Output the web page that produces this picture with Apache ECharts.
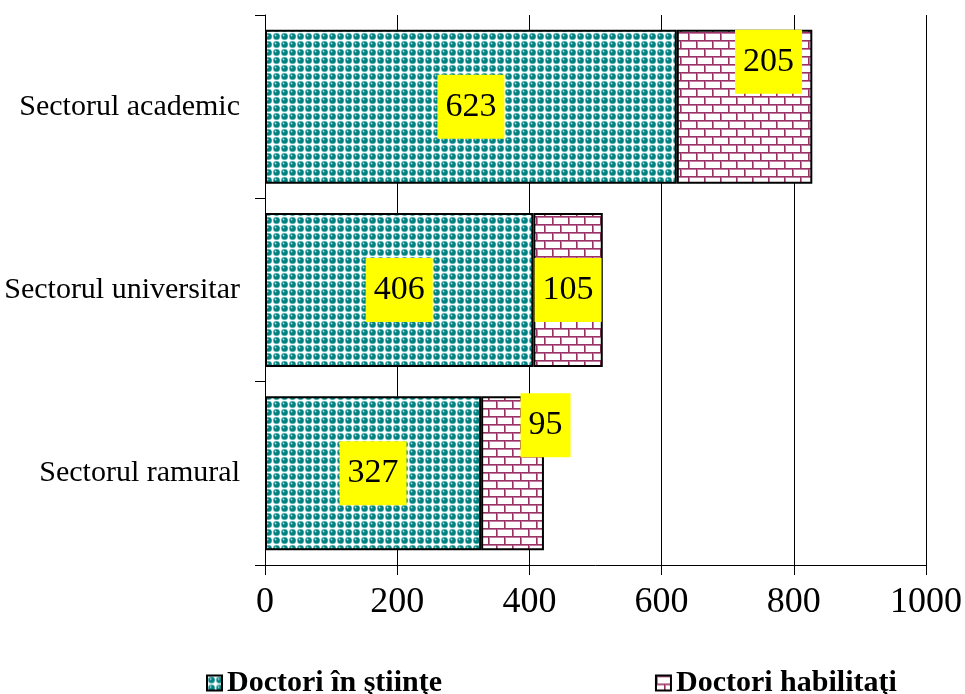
<!DOCTYPE html>
<html><head><meta charset="utf-8">
<script src="https://cdn.jsdelivr.net/npm/echarts@6/dist/echarts.min.js"></script>
<style>html,body{margin:0;padding:0;background:#fff}#c{width:965px;height:694px}</style>
</head><body><div id="c"></div>
<script>
var categories = ['Sectorul academic', 'Sectorul universitar', 'Sectorul ramural'];
var seriesNames = ['Doctori în ştiinţe', 'Doctori habilitaţi'];
var doctoriStiinte = [623, 406, 327];
var doctoriHabilitati = [205, 105, 95];
var xTicks = [0, 200, 400, 600, 800, 1000];

function dotPattern() {
  var c = document.createElement('canvas'); c.width = 8; c.height = 8;
  var g = c.getContext('2d');
  g.fillStyle = '#ffffff'; g.fillRect(0, 0, 8, 8);
  g.fillStyle = '#8ccccc';
  g.beginPath(); g.arc(4.5, 4.5, 3.7, 0, Math.PI * 2); g.fill();
  g.fillStyle = '#008080';
  g.beginPath(); g.arc(4.6, 4.4, 3.0, 0, Math.PI * 2); g.fill();
  g.fillStyle = '#a8dede';
  g.beginPath(); g.arc(3.6, 3.5, 0.9, 0, Math.PI * 2); g.fill();
  return c;
}
function brickPattern() {
  var c = document.createElement('canvas'); c.width = 16; c.height = 16;
  var g = c.getContext('2d');
  g.fillStyle = '#ffffff'; g.fillRect(0, 0, 16, 16);
  g.fillStyle = '#c47a9e';
  g.fillRect(0, 0, 16, 2); g.fillRect(0, 8, 16, 2);
  g.fillRect(0, 0, 2, 8); g.fillRect(8, 8, 2, 8);
  g.fillStyle = '#993366';
  g.fillRect(0, 0, 16, 1); g.fillRect(0, 8, 16, 1);
  g.fillRect(0, 0, 1, 8); g.fillRect(8, 8, 1, 8);
  return c;
}

var labelOffsets2 = [[24, -45], [0, 0], [33, -48]];
var labelBase = {
  show: true, position: 'inside', color: '#000', backgroundColor: '#ffff00',
  fontFamily: 'Liberation Serif', fontSize: 34, padding: [17, 8, 13, 8]
};

var chart = echarts.init(document.getElementById('c'));
chart.setOption({
  animation: false,
  textStyle: { fontFamily: 'Liberation Serif' },
  grid: { left: 265, right: 39, top: 15, bottom: 129, containLabel: false },
  legend: {
    top: 663, left: 201, itemGap: 213, itemWidth: 15, itemHeight: 15, icon: 'rect',
    textStyle: { fontFamily: 'Liberation Serif', fontWeight: 'bold', fontSize: 30, color: '#000' },
    data: seriesNames
  },
  xAxis: {
    type: 'value', min: 0, max: 1000, interval: 200,
    axisLine: { show: true, lineStyle: { color: '#000', width: 1 } },
    axisTick: { show: true, length: 10, lineStyle: { color: '#000' } },
    axisLabel: { fontFamily: 'Liberation Serif', fontSize: 36, color: '#000', margin: 20,
      formatter: function (v) { return xTicks.indexOf(v) >= 0 ? String(v) : ''; } },
    splitLine: { show: true, lineStyle: { color: '#000', width: 1 } }
  },
  yAxis: {
    type: 'category', data: categories, inverse: true,
    axisLine: { show: true, lineStyle: { color: '#000', width: 1 } },
    axisTick: { show: true, length: 10, lineStyle: { color: '#000' } },
    axisLabel: { fontFamily: 'Liberation Serif', fontSize: 30, color: '#000', margin: 25 }
  },
  series: [
    {
      name: seriesNames[0], type: 'bar', stack: 's', barCategoryGap: '16%',
      itemStyle: { color: { image: dotPattern(), repeat: 'repeat' }, borderColor: '#000', borderWidth: 2 },
      label: labelBase,
      data: doctoriStiinte
    },
    {
      name: seriesNames[1], type: 'bar', stack: 's', barCategoryGap: '16%',
      itemStyle: { color: { image: brickPattern(), repeat: 'repeat' }, borderColor: '#000', borderWidth: 2 },
      label: labelBase,
      data: doctoriHabilitati.map(function (v, i) {
        return { value: v, label: { offset: labelOffsets2[i] } };
      })
    }
  ]
});
</script></body></html>
